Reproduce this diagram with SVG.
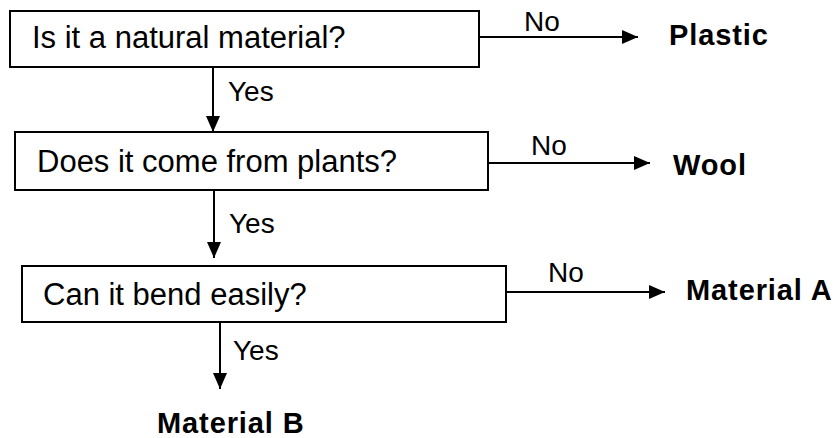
<svg xmlns="http://www.w3.org/2000/svg" width="837" height="438" viewBox="0 0 837 438">
<style>
.box{fill:#fff;stroke:#000;stroke-width:2}
.q{font-family:"Liberation Sans",Arial,sans-serif;font-size:31px;fill:#000}
.lbl{font-family:"Liberation Sans",Arial,sans-serif;font-size:28px;fill:#000}
.out{font-family:"Liberation Sans",Arial,sans-serif;font-size:29px;font-weight:bold;letter-spacing:0.9px;fill:#000}
.edge{stroke:#000;stroke-width:2;fill:none;marker-end:url(#ah)}
</style>
<defs>
<marker id="ah" markerUnits="userSpaceOnUse" markerWidth="16" markerHeight="14" viewBox="0 0 16 14" refX="16" refY="7" orient="auto">
<path d="M0,0 L16,7 L0,14 Z" fill="#000"/>
</marker>
</defs>
<rect width="837" height="438" fill="#fff"/>
<g id="connectors">
<line class="edge" x1="479" y1="37" x2="638" y2="37"/>
<text class="lbl" x="524" y="31">No</text>
<line class="edge" x1="213" y1="67" x2="213" y2="132"/>
<text class="lbl" x="228" y="101">Yes</text>
<line class="edge" x1="488" y1="163" x2="650" y2="163"/>
<text class="lbl" x="531" y="155">No</text>
<line class="edge" x1="214" y1="190" x2="214" y2="258"/>
<text class="lbl" x="229" y="233">Yes</text>
<line class="edge" x1="506" y1="292" x2="665" y2="292"/>
<text class="lbl" x="548" y="282">No</text>
<line class="edge" x1="220" y1="322" x2="220" y2="389"/>
<text class="lbl" x="233" y="360">Yes</text>
</g>
<g id="q1">
<rect class="box" x="10" y="11" width="469" height="56"/>
<text class="q" x="32" y="48">Is it a natural material?</text>
</g>
<g id="q2">
<rect class="box" x="15" y="132" width="473" height="58"/>
<text class="q" x="37" y="172">Does it come from plants?</text>
</g>
<g id="q3">
<rect class="box" x="22" y="266" width="484" height="56"/>
<text class="q" x="43" y="305">Can it bend easily?</text>
</g>
<g id="plastic"><text class="out" x="669" y="45">Plastic</text></g>
<g id="wool"><text class="out" x="673" y="175">Wool</text></g>
<g id="materialA"><text class="out" x="686" y="300">Material A</text></g>
<g id="materialB"><text class="out" x="157" y="433">Material B</text></g>
</svg>
